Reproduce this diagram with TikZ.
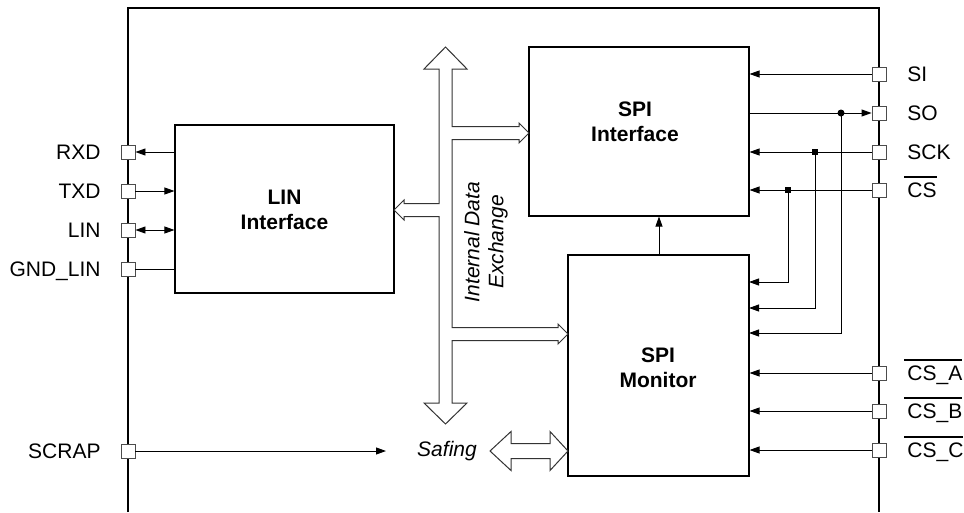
\documentclass[tikz,border=0pt]{standalone}
\usepackage{fontspec}
\setmainfont{Liberation Sans}
\usetikzlibrary{arrows.meta}
\newcommand\ovl[1]{\setbox0\hbox{#1}\rlap{\kern-3pt\raise19.5pt\hbox{\vrule width\dimexpr\wd0+3pt\relax height 1.7pt depth 0pt}}\box0}
\begin{document}
\begin{tikzpicture}[x=1pt,y=-1pt,line width=0.9pt,
  lbl/.style={font=\fontsize{21}{25}\selectfont,inner sep=0pt,text height=15pt,text depth=0pt},
  llab/.style={lbl,anchor=east},
  rlab/.style={lbl,anchor=west},
  btxt/.style={font=\fontsize{21}{25}\selectfont\bfseries,align=center,inner sep=0pt},
  itxt/.style={font=\fontsize{21}{24}\selectfont\itshape,align=center,inner sep=0pt},
  blk/.style={draw=black,line width=1.1pt,fill=none,inner sep=0pt},
  pinsq/.style={draw=black!70,fill=white,line width=0.9pt,minimum size=14pt,inner sep=0pt},
  tip/.style={-{Triangle[length=10pt,width=7pt]}},
  tipb/.style={{Triangle[length=10pt,width=7pt]}-{Triangle[length=10pt,width=7pt]}},
  hollow/.style={draw=black!80,line width=1pt,fill=white,line join=miter},
  dot/.style={fill=black,inner sep=0pt}
]
\path[use as bounding box] (0,0) rectangle (964,512);
% outer frame
\draw[line width=1.3pt] (128,512) -- (128,8) -- (879,8) -- (879,512);

% blocks
\node[blk,minimum width=219pt,minimum height=168pt] (lin) at (284.5,209) {};
\node[blk,minimum width=220pt,minimum height=169pt] (spi) at (639,131.5) {};
\node[blk,minimum width=181pt,minimum height=221pt] (mon) at (658.5,365.5) {};
\node[btxt] (linT) at (284.5,210) {LIN\\Interface};
\node[btxt] (spiT) at (635,122) {SPI\\Interface};
\node[btxt] (monT) at (658,368) {SPI\\Monitor};

% hollow bus arrow
\draw[hollow] (445.5,47) -- (467,69) -- (452,69) -- (452,126.5) -- (519,126.5) -- (519,123) -- (529,133)
  -- (519,143) -- (519,139.5) -- (452,139.5) -- (452,327.5) -- (558,327.5) -- (558,324) -- (568,334)
  -- (558,344) -- (558,340.5) -- (452,340.5) -- (452,403) -- (467,403) -- (445.5,424) -- (424,403)
  -- (439,403) -- (439,216.5) -- (404,216.5) -- (404,220) -- (394,210) -- (404,200) -- (404,203.5)
  -- (439,203.5) -- (439,69) -- (424,69) -- cycle;
\node[itxt,rotate=90] (ide) at (486,242) {Internal Data\\Exchange};

% safing arrow
\draw[hollow] (490,451) -- (511,431.5) -- (511,443.5) -- (550,443.5) -- (550,431.5) -- (568,451)
  -- (550,470.5) -- (550,458.5) -- (511,458.5) -- (511,470.5) -- cycle;
\node[itxt] (saf) at (447,451) {Safing};

% left pins
\node[pinsq] (pRXD) at (128,152) {};
\node[pinsq] (pTXD) at (128,191) {};
\node[pinsq] (pLIN) at (128,230) {};
\node[pinsq] (pGND) at (128,269) {};
\node[pinsq] (pSCR) at (128,451) {};
\node[llab] (lRXD) at (101,152) {RXD};
\node[llab] (lTXD) at (101,191) {TXD};
\node[llab] (lLIN) at (101,230) {LIN};
\node[llab] (lGND) at (101,269) {GND\_LIN};
\node[llab] (lSCR) at (101,451) {SCRAP};

% right pins
\node[pinsq] (pSI) at (879,74) {};
\node[pinsq] (pSO) at (879,113) {};
\node[pinsq] (pSCK) at (879,152) {};
\node[pinsq] (pCS) at (879,190) {};
\node[pinsq] (pCSA) at (879,373) {};
\node[pinsq] (pCSB) at (879,411) {};
\node[pinsq] (pCSC) at (879,450) {};
\node[rlab] (lSI) at (907,74) {SI};
\node[rlab] (lSO) at (907,113) {SO};
\node[rlab] (lSCK) at (907,152) {SCK};
\node[rlab] (lCS) at (907,190) {\ovl{CS}};
\node[rlab] (lCSA) at (907,373) {\ovl{CS\_A}};
\node[rlab] (lCSB) at (907,411) {\ovl{CS\_B}};
\node[rlab] (lCSC) at (907,450) {\ovl{CS\_C}};

% LIN connections
\draw[tip] (pRXD -| lin.west) -- (pRXD.east);
\draw[tip] (pTXD.east) -- (pTXD -| lin.west);
\draw[tipb] (pLIN.east) -- (pLIN -| lin.west);
\draw (pGND.east) -- (pGND -| lin.west);

% SCRAP
\coordinate (scrEnd) at (386,451);
\draw[tip] (pSCR.east) -- (scrEnd);

% SPI connections
\draw[tip] (pSI.west) -- (pSI -| spi.east);
\draw[tip] (pSO -| spi.east) -- (pSO.west);
\draw[tip] (pSCK.west) -- (pSCK -| spi.east);
\draw[tip] (pCS.west) -- (pCS -| spi.east);
\draw[tip] (pCSA.west) -- (pCSA -| mon.east);
\draw[tip] (pCSB.west) -- (pCSB -| mon.east);
\draw[tip] (pCSC.west) -- (pCSC -| mon.east);

% junction taps
\coordinate (jSO) at (841,113);
\coordinate (jSCK) at (815,152);
\coordinate (jCS) at (788,190);
\coordinate (kSO) at (749,333);
\coordinate (kSCK) at (749,308);
\coordinate (kCS) at (749,282);
\draw[tip] (jSO) |- (kSO);
\draw[tip] (jSCK) |- (kSCK);
\draw[tip] (jCS) |- (kCS);
\node[dot,circle,minimum size=7pt] (dSO) at (jSO) {};
\node[dot,rectangle,minimum size=6pt] (dSCK) at (jSCK) {};
\node[dot,rectangle,minimum size=6pt] (dCS) at (jCS) {};

% monitor -> interface
\coordinate (xm) at (659,0);
\draw[tip] (mon.north -| xm) -- (spi.south -| xm);
\end{tikzpicture}
\end{document}
